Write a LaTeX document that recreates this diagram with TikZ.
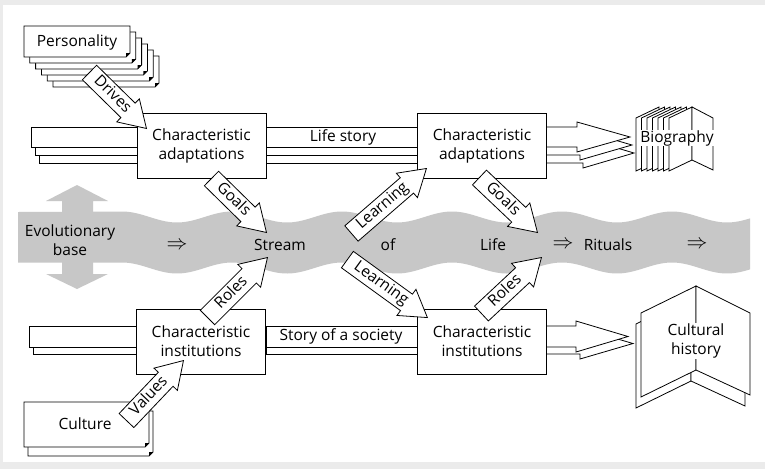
\documentclass[tikz,border=0pt]{standalone}
\usepackage{fontspec}
\setmainfont{Open Sans}
\usetikzlibrary{shapes.arrows,calc}
\tikzset{every node/.style={font=\fontsize{15.5}{19}\selectfont}}
\colorlet{framecol}{black!8}
\colorlet{streamcol}{black!22}
\colorlet{linecol}{black}
\tikzset{
  charbox/.style={draw=linecol, fill=white, minimum width=129pt, minimum height=65pt,
    align=center, inner sep=0pt},
  flowarrow/.style={single arrow, draw=linecol, fill=white, single arrow tip angle=64,
    single arrow head extend=6pt, inner xsep=2pt, inner ysep=3pt,
    text height=10.5pt, text depth=3pt},
  strand/.style={draw=linecol, fill=white},
  pagefill/.style={draw=linecol, fill=white},
}
% block arrow: name, tail, tip, label
\newcommand\blockarrow[4]{%
  \path let \p1 = ($#3-#2$), \n1 = {atan2(\y1,\x1)}, \n2 = {veclen(\x1,\y1)} in
    node[flowarrow, rotate=\n1, minimum height=\n2, anchor=tip] (#1) at #3 {#4};
}
\newcommand\impl{\scalebox{1.45}{$\Rightarrow$}}

\begin{document}
\begin{tikzpicture}[x=1pt, y=-1pt, line width=0.8pt]

  % Frame.
  \useasboundingbox (0,0) rectangle (765,469);
  \fill[framecol] (0,0) rectangle (765,469);
  \fill[white] (3,5) rectangle (765,462);

  % Stream of life (wavy band) and the vertical double arrow.
  \fill[streamcol] (18,212) -- (122,211.5)
    -- plot[domain=122:750, samples=130, smooth] (\x, {217-5.5*cos(3.272727*(\x-232))})
    -- plot[domain=750:122, samples=130, smooth] (\x, {268-5.5*cos(3.272727*(\x-232))})
    -- (18,262.5) -- cycle;
  \fill[streamcol] (77,185) -- (108,201) -- (93,201) -- (93,274) -- (108,274)
    -- (77,289) -- (46,274) -- (62,274) -- (62,201) -- (46,201) -- cycle;

  \node[align=center] (evol) at (70,240) {Evolutionary\\base};
  \node (imp1) at (177,246) {\impl};
  \node (stream) at (280,245) {Stream};
  \node (of) at (388,245) {of};
  \node (life) at (493,245) {Life};
  \node (imp2) at (563,245) {\impl};
  \node (rituals) at (608,245) {Rituals};
  \node (imp3) at (697,245) {\impl};

  % Strands of the upper row.
  \foreach \k in {2,1,0} {
    \draw[strand] (31+4*\k,127+8*\k) rectangle (137,147+8*\k);
    \draw[strand] (266,127+8*\k) rectangle (417,147+8*\k);
    \filldraw[fill=white] (547,127+8*\k) -- (577+3*\k,127+8*\k) -- (577+3*\k,122+8*\k)
      -- (630+2*\k,137+8*\k) -- (577+3*\k,152+8*\k) -- (577+3*\k,147+8*\k) -- (547,147+8*\k);
  }
  \node (lifestory) at (343,137) {Life story};

  % Strands of the lower row.
  \foreach \k in {1,0} {
    \draw[strand] (29+4*\k,326+7*\k) rectangle (136,347+7*\k);
    \draw[strand] (266,326+7*\k) rectangle (417,347+7*\k);
    \filldraw[fill=white] (547,326+7*\k) -- (576+4*\k,326+7*\k) -- (576+4*\k,321+7*\k)
      -- (628+5*\k,336.5+7*\k) -- (576+4*\k,352+7*\k) -- (576+4*\k,347+7*\k) -- (547,347+7*\k);
  }
  \node (societystory) at (341,336.5) {Story of a society};

  % Characteristic adaptations and institutions.
  \node[charbox] (adapt1) at (201.5,145.5) {Characteristic\\adaptations};
  \node[charbox] (adapt2) at (482,145.5) {Characteristic\\adaptations};
  \node[charbox] (inst1) at (201,341.5) {Characteristic\\institutions};
  \node[charbox] (inst2) at (482,341.5) {Characteristic\\institutions};

  % Personality sheets (dog-eared).
  \foreach \k in {5,...,0} {
    \filldraw[fill=white] (24+5.8*\k,26+6*\k) -- (130+5.8*\k,26+6*\k) -- (130+5.8*\k,53+6*\k)
      -- (126+5.8*\k,57+6*\k) -- (24+5.8*\k,57+6*\k) -- cycle;
    \fill (130+5.8*\k,53+6*\k) -- (126+5.8*\k,57+6*\k) -- (126+5.8*\k,53+6*\k) -- cycle;
  }
  \node (personality) at (77,42) {Personality};

  % Culture sheets.
  \foreach \k in {1,0} {
    \filldraw[fill=white] (24+4*\k,402+9*\k) -- (149+4*\k,402+9*\k) -- (149+4*\k,443+9*\k)
      -- (145+4*\k,447+9*\k) -- (24+4*\k,447+9*\k) -- cycle;
    \fill (149+4*\k,443+9*\k) -- (145+4*\k,447+9*\k) -- (145+4*\k,443+9*\k) -- cycle;
  }
  \node (culture) at (85,424) {Culture};

  % Biography book.
  \foreach \k in {0,...,6}
    \draw[pagefill] (636+5.5*\k,118) -- (659+5.5*\k,107) -- (659+5.5*\k,160)
      -- (636+5.5*\k,171) -- cycle;
  \draw[pagefill] (692,107) -- (713,118) -- (713,170) -- (692,160) -- cycle;
  \node[fill=white, inner sep=0.5pt] (biography) at (677,138) {Biography};

  % Cultural history book.
  \draw[pagefill] (636,324) -- (691,297) -- (691,381) -- (636,408) -- cycle;
  \draw[pagefill] (691,297) -- (745,324) -- (745,406) -- (691,381) -- cycle;
  \draw[pagefill] (641,313) -- (696,286) -- (696,370) -- (641,397) -- cycle;
  \draw[pagefill] (696,286) -- (750,313) -- (750,395) -- (696,370) -- cycle;
  \node[fill=white, inner sep=1pt, align=center] (culthistory) at (696,341) {Cultural\\history};

  % Block arrows.
  \blockarrow{drives}{(90,73)}{(147,129)}{Drives}
  \blockarrow{goalsA}{(212,179)}{(267,233)}{Goals}
  \blockarrow{learnA}{(352,233)}{(427,168)}{Learning}
  \blockarrow{goalsB}{(480,178)}{(538,233)}{Goals}
  \blockarrow{rolesA}{(208,317)}{(268,257)}{Roles}
  \blockarrow{learnB}{(348,260)}{(428,318)}{Learning}
  \blockarrow{rolesB}{(482,313)}{(542,257)}{Roles}
  \blockarrow{values}{(127,420)}{(184,360)}{Values}

\end{tikzpicture}
\end{document}
